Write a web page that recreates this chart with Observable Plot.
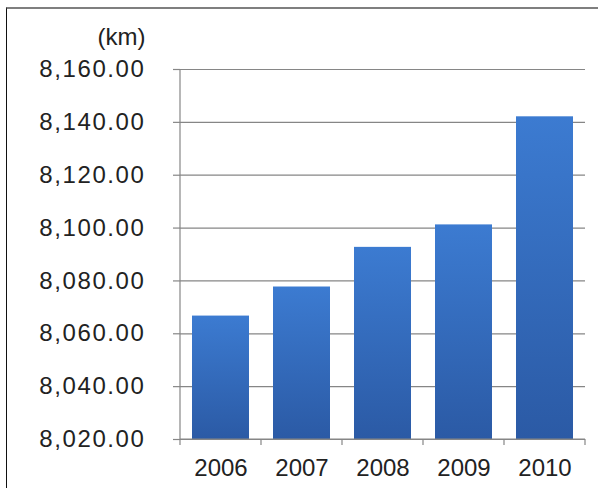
<!DOCTYPE html>
<html><head><meta charset="utf-8">
<script src="https://cdn.jsdelivr.net/npm/d3@7"></script>
<script src="https://cdn.jsdelivr.net/npm/@observablehq/plot@0.6"></script>
<style>
body{margin:0;background:#fff;}
#wrap{position:relative;width:598px;height:488px;overflow:hidden;background:#fff;}
#frame{position:absolute;left:6px;top:7px;width:700px;height:600px;border-top:2px solid #7f7f7f;border-left:1.5px solid #111;pointer-events:none;}
g[aria-label="y-axis tick label"] text{letter-spacing:1.6px;}
</style></head><body><div id="wrap"><div id="chart"></div><div id="frame"></div></div>
<script>
const years = ["2006", "2007", "2008", "2009", "2010"];
const lengths = [8066.7, 8077.7, 8092.7, 8101.2, 8142.1];
const yTicks = [8020, 8040, 8060, 8080, 8100, 8120, 8140, 8160];
const unitLabel = "(km)";

const data = years.map((year, i) => ({year, km: lengths[i]}));
const axisColor = "#868686";
const pad = 0.3;

const defs = () => {
  const d = d3.create("svg:defs");
  const g = d.append("linearGradient").attr("id", "barGrad")
    .attr("x1", 0).attr("y1", 0).attr("x2", 0).attr("y2", 1);
  g.append("stop").attr("offset", "0%").attr("stop-color", "#3c7bd1");
  g.append("stop").attr("offset", "100%").attr("stop-color", "#2b5aa5");
  return d.node();
};

const axisLines = (index, scales, values, dims) => {
  const sx = scales.x, sy = scales.y;
  const bw = sx.bandwidth ? sx.bandwidth() : (sx(years[1]) - sx(years[0])) * (1 - pad);
  const step = sx.step ? sx.step() : (sx(years[1]) - sx(years[0]));
  const half = (step - bw) / 2;
  const xs = years.map(c => sx(c) - half);
  xs.push(sx(years[years.length - 1]) + bw + half);
  const y0 = sy(yTicks[0]), y1 = sy(yTicks[yTicks.length - 1]);
  const g = d3.create("svg:g").attr("stroke", axisColor).attr("stroke-width", 1.2);
  g.append("line").attr("x1", dims.marginLeft).attr("x2", dims.marginLeft).attr("y1", y0).attr("y2", y1);
  g.append("line").attr("x1", dims.marginLeft).attr("x2", dims.width - dims.marginRight).attr("y1", y0).attr("y2", y0);
  xs.forEach(x => g.append("line").attr("x1", x).attr("x2", x).attr("y1", y0).attr("y2", y0 + 6));
  return g.node();
};

const chart = Plot.plot({
  width: 598,
  height: 488,
  marginLeft: 180,
  marginRight: 13,
  marginTop: 69,
  marginBottom: 49,
  style: {fontFamily: "'Liberation Sans', Arial, sans-serif", fontSize: "24px", color: "#222", background: "#fff", overflow: "visible"},
  x: {domain: years, paddingInner: pad, paddingOuter: pad / 2, label: null},
  y: {domain: [yTicks[0], yTicks[yTicks.length - 1]], label: null},
  marks: [
    defs,
    Plot.gridY(yTicks, {stroke: axisColor, strokeOpacity: 1, strokeWidth: 1.2}),
    Plot.barY(data, {x: "year", y1: yTicks[0], y2: "km", fill: "url(#barGrad)"}),
    axisLines,
    Plot.axisY(yTicks, {tickSize: 7, tickPadding: 28, tickFormat: d3.format(",.2f"), stroke: axisColor, strokeWidth: 1.2, fill: "#222", label: null}),
    Plot.axisX(years, {tickSize: 0, tickPadding: 19, fill: "#222", label: null}),
    Plot.text([unitLabel], {frameAnchor: "top-left", lineAnchor: "middle", dx: -35, dy: -32, textAnchor: "end", fill: "#222", fontSize: 24})
  ]
});
document.getElementById("chart").appendChild(chart);
</script>
</body></html>
